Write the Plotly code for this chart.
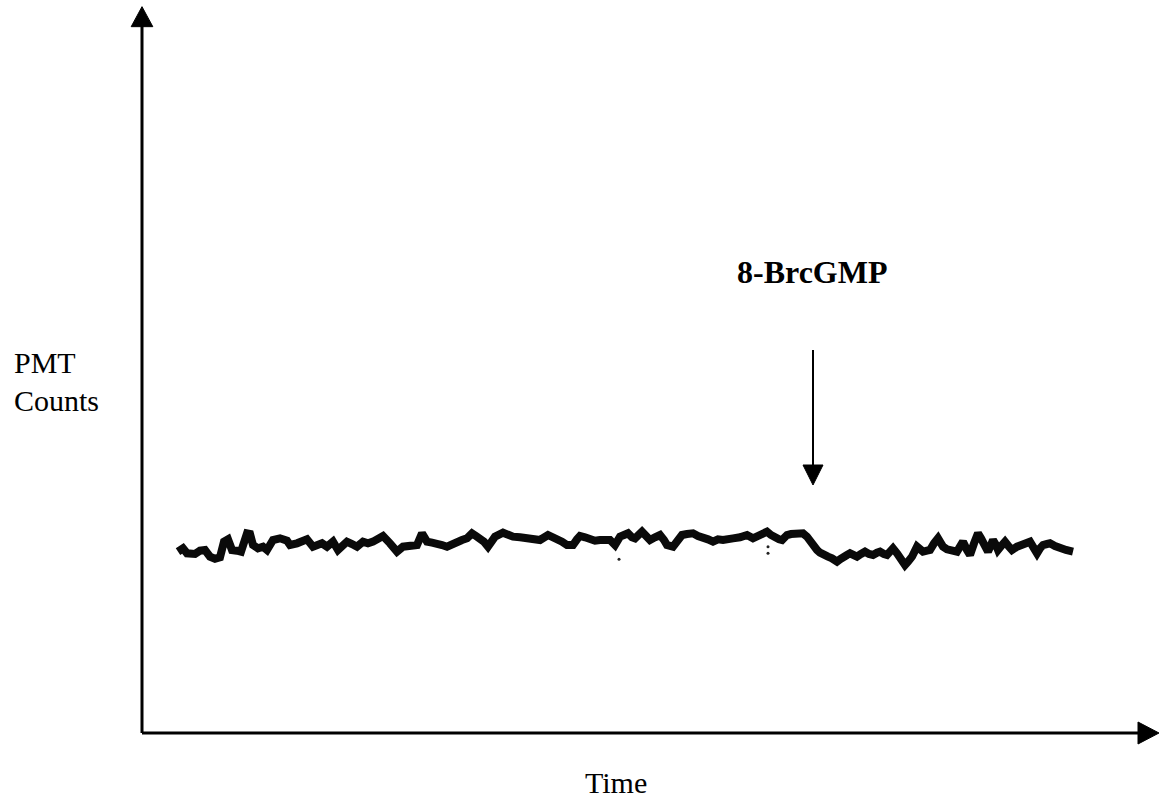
import plotly.graph_objects as go

# ---- data (time in arbitrary units, counts in arbitrary units) ----
time = [36, 41, 45, 53, 58, 63, 68, 73, 78, 82, 86, 90, 95, 99, 105, 108, 111, 116, 121, 125,
        131, 138, 145, 148, 155, 161, 165, 171, 176, 180, 185, 191, 196, 200, 205, 210, 215, 221,
        226, 231, 236, 241, 248, 255, 261, 268, 275, 280, 285, 290, 295, 300, 305, 310, 315, 320,
        325, 330, 334, 338, 342, 346, 350, 353, 361, 366, 371, 378, 385, 391, 398, 406, 410, 415,
        420, 425, 431, 435, 438, 443, 448, 453, 458, 463, 468, 473, 478, 482, 486, 490, 493, 500,
        504, 508, 513, 518, 522, 525, 531, 536, 540, 545, 551, 556, 561, 566, 571, 576, 581, 586,
        591, 598, 605, 611, 616, 621, 625, 629, 633, 637, 640, 645, 649, 653, 657, 661, 665, 668,
        672, 675, 678, 681, 686, 690, 695, 698, 701, 705, 708, 712, 715, 719, 723, 727, 731, 735,
        738, 742, 745, 748, 751, 755, 758, 763, 766, 770, 775, 778, 781, 785, 788, 792, 796, 799,
        801, 805, 808, 812, 815, 818, 821, 825, 828, 832, 836, 839, 841, 844, 846, 849, 851, 854,
        856, 860, 863, 867, 870, 875, 880, 884, 888, 892, 895, 898, 901, 905, 908, 913, 918, 924,
        931]
counts = [544, 554, 539, 537, 547, 549, 529, 523, 527, 574, 581, 549, 547, 544, 599, 597, 564, 554,
          559, 549, 579, 584, 577, 564, 569, 574, 581, 559, 564, 569, 559, 574, 549, 559, 574, 567,
          559, 574, 569, 574, 581, 591, 569, 544, 559, 561, 564, 599, 574, 571, 569, 564, 559, 567,
          569, 579, 584, 599, 591, 584, 574, 559, 579, 589, 601, 594, 589, 587, 584, 581, 579, 594,
          589, 584, 574, 564, 564, 581, 591, 587, 581, 577, 579, 581, 579, 564, 589, 594, 599, 587,
          584, 604, 589, 579, 587, 594, 579, 564, 559, 579, 594, 597, 599, 591, 589, 581, 574, 581,
          579, 584, 584, 587, 594, 584, 589, 594, 604, 594, 584, 581, 579, 594, 597, 599, 601, 599,
          589, 574, 559, 549, 541, 534, 529, 524, 514, 521, 529, 534, 539, 531, 529, 537, 544, 537,
          534, 541, 544, 537, 534, 544, 554, 539, 529, 504, 514, 529, 559, 549, 544, 547, 549, 569,
          584, 569, 559, 551, 549, 544, 544, 559, 574, 549, 534, 569, 599, 584, 569, 554, 544, 564,
          579, 564, 549, 564, 574, 559, 549, 559, 564, 569, 574, 554, 539, 554, 564, 567, 569, 561,
          554, 549, 544]

spike_time = [626, 626, 477]
spike_counts = [559, 539, 521]

label_y = ["PMT", "Counts"]
label_x = "Time"
stimulus = "8-BrcGMP"
stimulus_time = 671

X_MIN, X_MAX = -142, 1020
Y_MIN, Y_MAX = -216, 2199
AX_TOP = 2179
AX_RIGHT = 1017

fig = go.Figure()
fig.add_trace(go.Scatter(x=time, y=counts, mode="lines",
                         line=dict(color="#0a0a0a", width=8), showlegend=False,
                         hoverinfo="skip"))
fig.add_trace(go.Scatter(x=spike_time, y=spike_counts, mode="markers",
                         marker=dict(color="#222222", size=3), showlegend=False,
                         hoverinfo="skip"))

shapes = [
    # y axis
    dict(type="line", xref="x", yref="y", x0=0, y0=0, x1=0, y1=AX_TOP - 40,
         line=dict(color="black", width=3)),
    dict(type="path", xref="x", yref="y",
         path=f"M -10.8,{AX_TOP-60} L 10.8,{AX_TOP-60} L 0,{AX_TOP} Z",
         fillcolor="black", line=dict(color="black", width=1)),
    # x axis
    dict(type="line", xref="x", yref="y", x0=0, y0=0, x1=AX_RIGHT - 15, y1=0,
         line=dict(color="black", width=3)),
    dict(type="path", xref="x", yref="y",
         path=f"M {AX_RIGHT-21},33 L {AX_RIGHT-21},-33 L {AX_RIGHT},0 Z",
         fillcolor="black", line=dict(color="black", width=1)),
    # stimulus arrow
    dict(type="line", xref="x", yref="y", x0=stimulus_time, y0=1149,
         x1=stimulus_time, y1=800, line=dict(color="black", width=2)),
    dict(type="path", xref="x", yref="y",
         path=f"M {stimulus_time-10},804 L {stimulus_time+10},804 L {stimulus_time},744 Z",
         fillcolor="black", line=dict(color="black", width=1)),
]

font_reg = dict(family="Liberation Serif, Times New Roman, serif", size=30, color="black")
font_bold = dict(family="Liberation Serif, Times New Roman, serif", size=32, color="black")

annotations = [
    dict(x=-130, y=1113, xref="x", yref="y", text=label_y[0], showarrow=False,
         xanchor="left", yanchor="middle", font=font_reg),
    dict(x=-130, y=999, xref="x", yref="y", text=label_y[1], showarrow=False,
         xanchor="left", yanchor="middle", font=font_reg),
    dict(x=474, y=-148, xref="x", yref="y", text=label_x, showarrow=False,
         xanchor="center", yanchor="middle", font=font_reg),
    dict(x=670, y=1384, xref="x", yref="y", text=f"<b>{stimulus}</b>", showarrow=False,
         xanchor="center", yanchor="middle", font=font_bold),
]

fig.update_layout(
    width=1162, height=805,
    margin=dict(l=0, r=0, t=0, b=0),
    paper_bgcolor="white", plot_bgcolor="white",
    xaxis=dict(range=[X_MIN, X_MAX], visible=False, fixedrange=True),
    yaxis=dict(range=[Y_MIN, Y_MAX], visible=False, fixedrange=True),
    shapes=shapes, annotations=annotations,
    showlegend=False,
)

fig.write_html("out.html", config={"displayModeBar": False})
